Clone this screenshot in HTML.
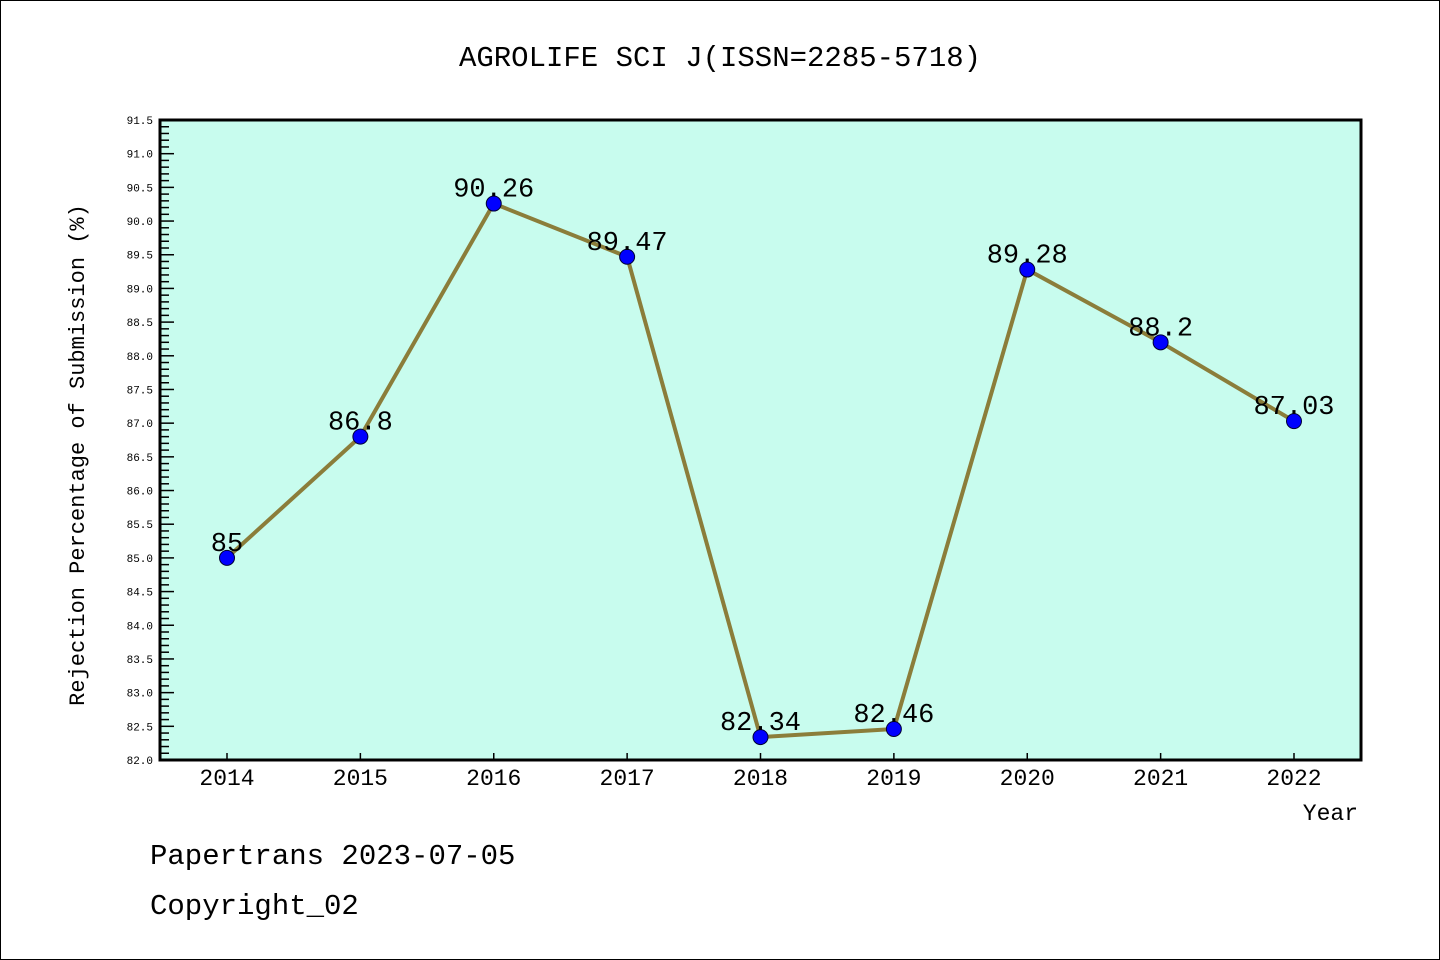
<!DOCTYPE html>
<html><head><meta charset="utf-8"><style>
body{margin:0;background:#fff}
svg{display:block}
text{font-family:"Liberation Mono","Noto Sans CJK SC",monospace}
</style></head><body>
<svg width="1440" height="960" id="svg">
<rect x="0.5" y="0.5" width="1439" height="959" fill="#fff" stroke="#000"/>
<text x="720" y="66" text-anchor="middle" font-size="29">AGROLIFE SCI J(ISSN=2285-5718)</text>
<rect x="160" y="120" width="1201" height="640" fill="#c8fcee"/>
<g id="ticks"></g>
<g id="series"></g>
<rect x="160" y="120" width="1201" height="640" fill="none" stroke="#000" stroke-width="3"/>
<text transform="translate(84,455) rotate(-90)" text-anchor="middle" font-size="22">Rejection Percentage of Submission (%)</text>
<text x="1358" y="820" text-anchor="end" font-size="23">Year</text>
<text x="150" y="864" font-size="29">Papertrans 2023-07-05</text>
<text x="150" y="914" font-size="29">Copyright_02</text>
</svg>
<script>
const years=["2014","2015","2016","2017","2018","2019","2020","2021","2022"];
const values=[85,86.8,90.26,89.47,82.34,82.46,89.28,88.2,87.03];
const valueLabels=["85","86.8","90.26","89.47","82.34","82.46","89.28","88.2","87.03"];
const yMin=82,yMax=91.5;
const NS="http://www.w3.org/2000/svg";
const X=i=>227+i*(1294-227)/(years.length-1);
const Y=v=>760-(v-yMin)/(yMax-yMin)*640;
function mk(tag,attrs,parent){const e=document.createElementNS(NS,tag);for(const k in attrs)e.setAttribute(k,attrs[k]);parent.appendChild(e);return e;}
const tg=document.getElementById('ticks'),sg=document.getElementById('series');
for(let k=0;k<=95;k++){const v=yMin+k*0.1;const y=Y(v);const major=k%5===0;
 const l=mk('line',{x1:160,x2:160+(major?14:9),y1:y,y2:y,stroke:'#000','stroke-width':1.5},tg);
 
 
 if(major){const t=mk('text',{x:153,y:y+4,'text-anchor':'end','font-size':11},tg);t.textContent=v.toFixed(1);
 
 }}
years.forEach((yr,i)=>{const x=X(i);
 const l=mk('line',{x1:x,x2:x,y1:760,y2:753,stroke:'#000','stroke-width':1.5},tg);
 
 
 const t=mk('text',{x:x,y:785,'text-anchor':'middle','font-size':23},tg);t.textContent=yr;
 
 });
const pts=values.map((v,i)=>X(i)+','+Y(v)).join(' ');
const pl=mk('polyline',{points:pts,fill:'none',stroke:'#8b7d3a','stroke-width':4,'stroke-linejoin':'round'},sg);


values.forEach((v,i)=>{
 const c=mk('circle',{cx:X(i),cy:Y(v),r:7.5,fill:'#0000ff',stroke:'#000033','stroke-width':1},sg);
 
 
 const t=mk('text',{x:X(i),y:Y(v)-7,'text-anchor':'middle','font-size':27},sg);t.textContent=valueLabels[i];
 
 });
</script>
</body></html>
